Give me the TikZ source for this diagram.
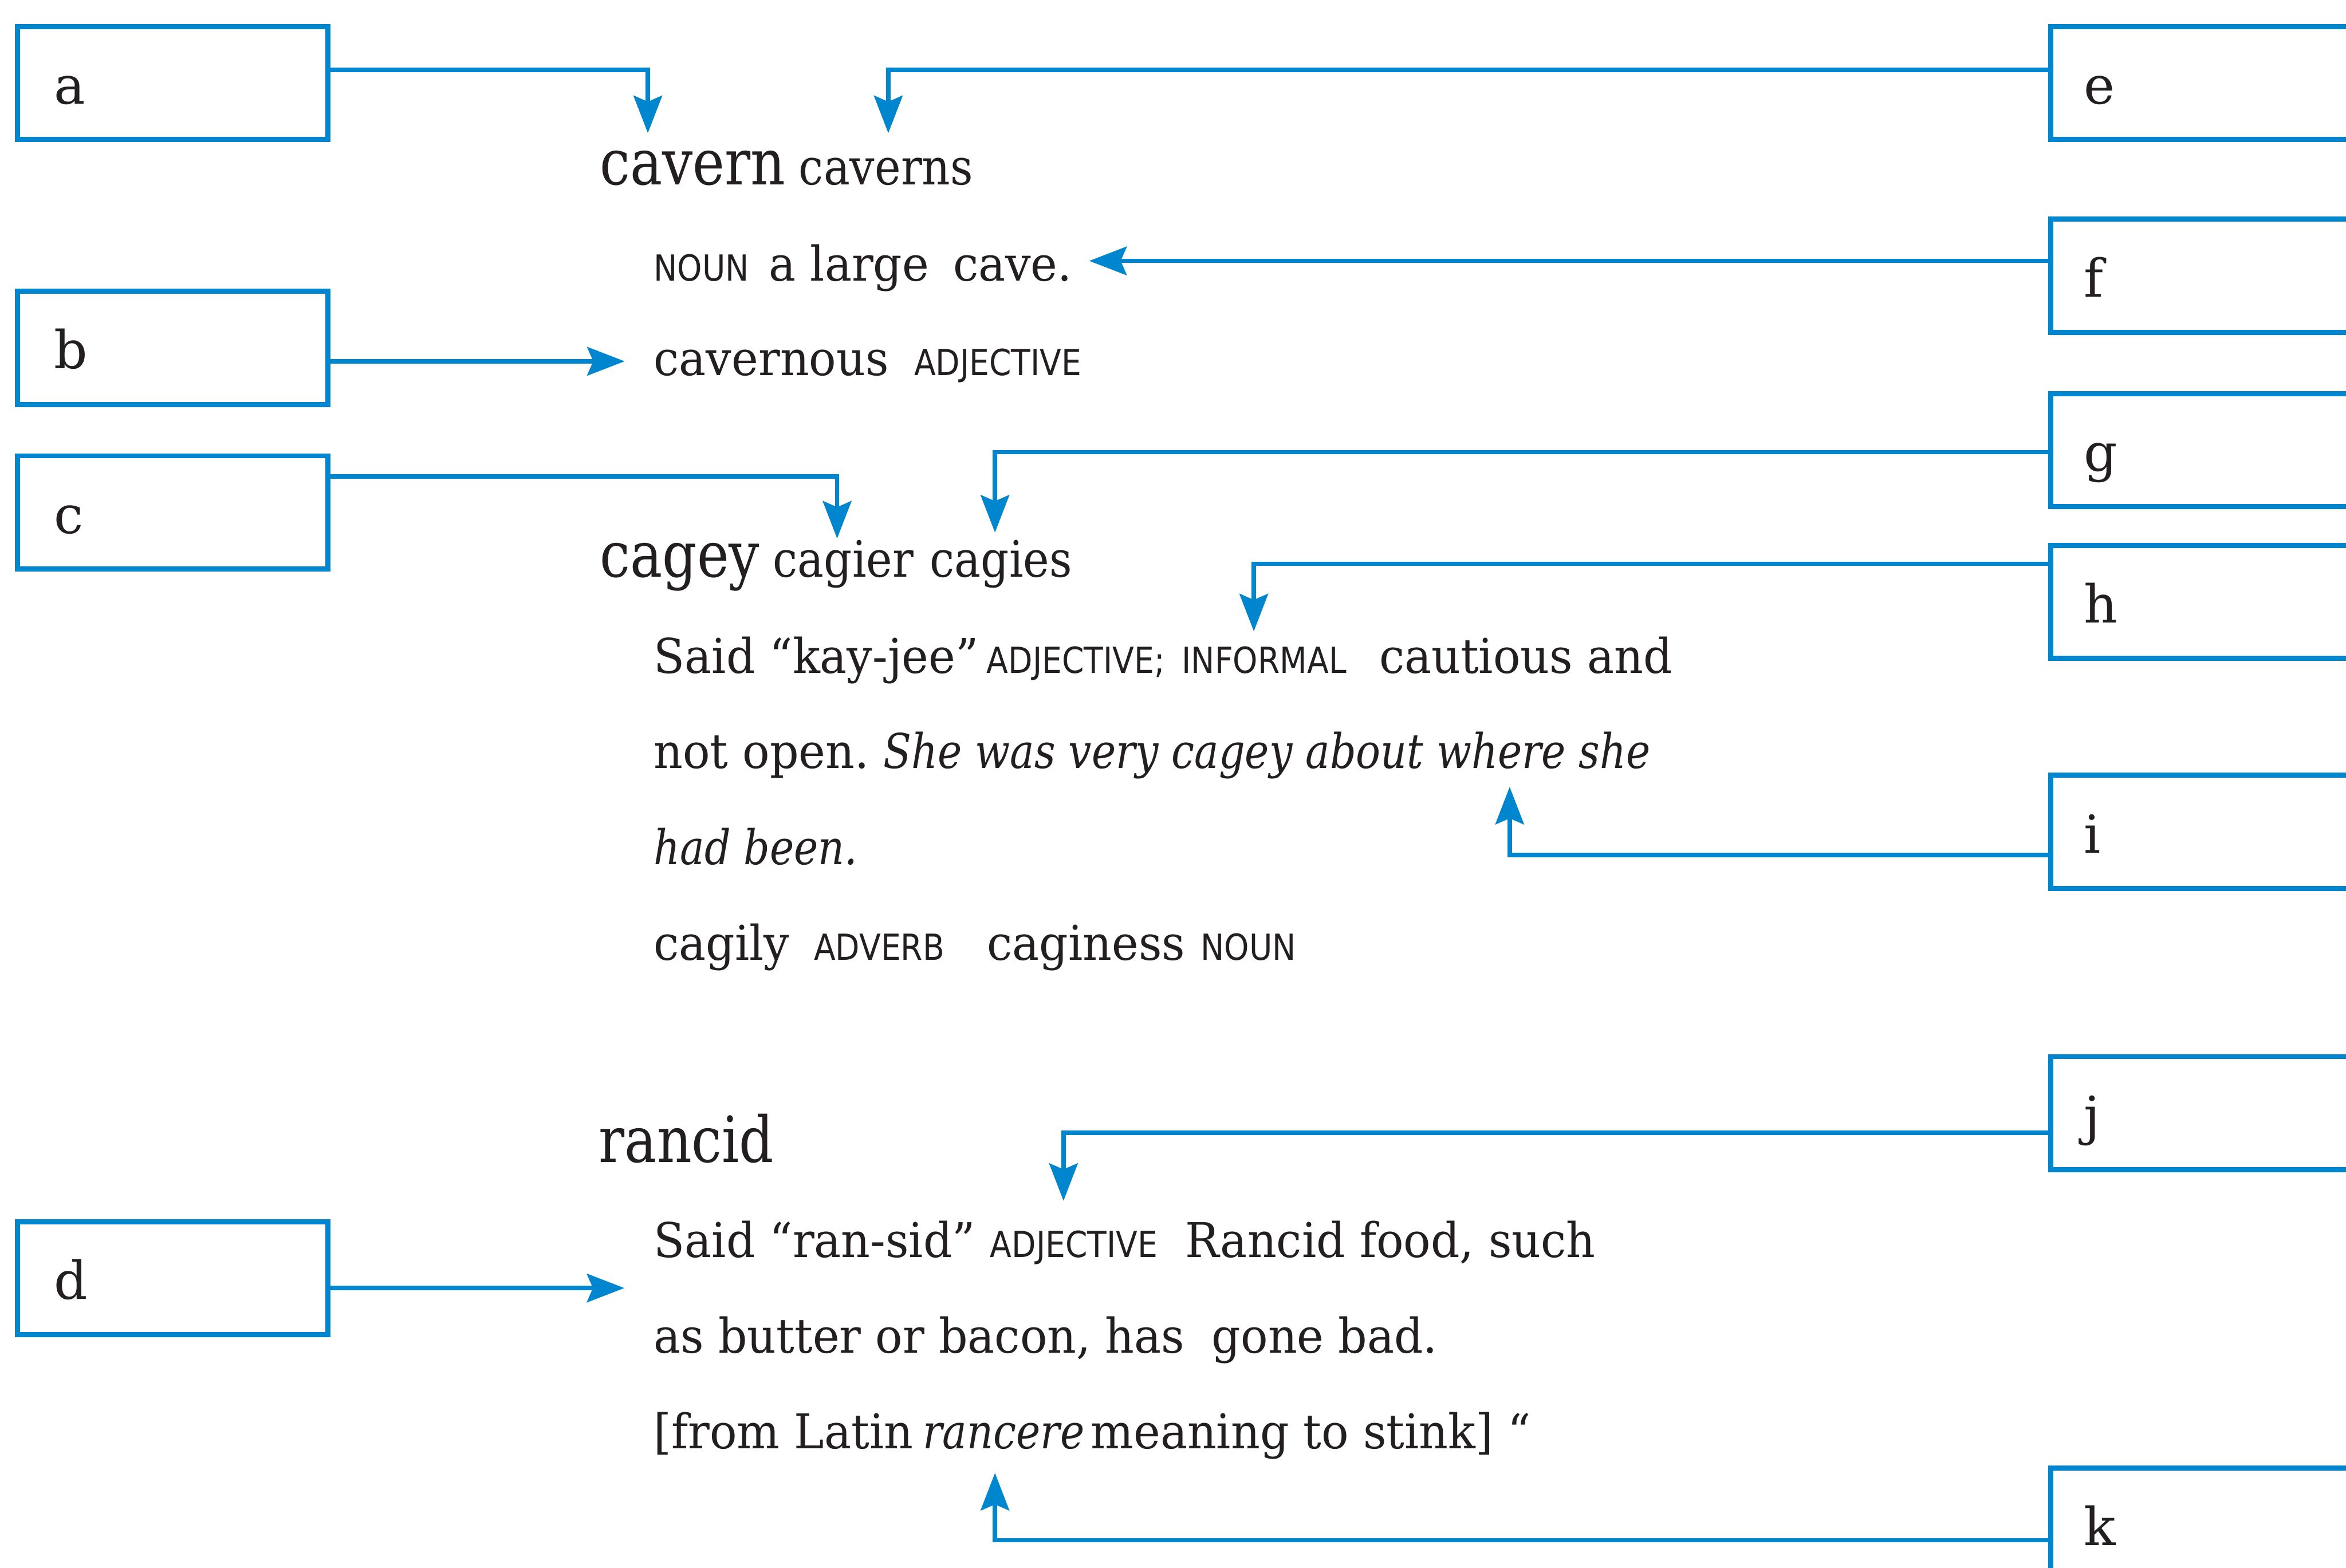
\documentclass[tikz,border=0pt]{standalone}
\usepackage{fontspec}
\setmainfont{DejaVu Serif}
\newfontfamily\bodyf{DejaVu Serif}[FakeStretch=0.945]
\newfontfamily\italf{DejaVu Serif}[FakeStretch=0.855]
\newfontfamily\headf{DejaVu Serif}[FakeStretch=0.85]
\newfontfamily\inflf{DejaVu Serif}[FakeStretch=0.88]
\newfontfamily\scf{DejaVu Sans}[FakeStretch=0.88]
\newfontfamily\lblf{DejaVu Serif}
\usetikzlibrary{arrows.meta}
\definecolor{oupblue}{RGB}{0,134,206}
\definecolor{ink}{RGB}{35,31,32}
\tikzset{
 box/.style={draw=oupblue, line width=3.4pt, rectangle, minimum width=207.6pt, minimum height=75.6pt, inner sep=0pt, outer sep=0pt},
 rbox/.style={box, minimum width=300pt},
 conn/.style={draw=oupblue, line width=2.9pt, -{Stealth[length=25pt,width=19pt,inset=4pt]}},
 txt/.style={anchor=base west, inner sep=0pt, outer sep=0pt, text=ink},
 boxlbl/.style={txt, font=\lblf\fontsize{35}{40}\selectfont},
 bodytxt/.style={txt, font=\bodyf\fontsize{32}{38}\selectfont},
 italtxt/.style={txt, font=\italf\itshape\fontsize{32}{38}\selectfont},
 hdword/.style={txt, font=\headf\fontsize{42.5}{48}\selectfont},
 infltxt/.style={txt, font=\inflf\fontsize{33.5}{38}\selectfont},
 sctxt/.style={txt, font=\scf\fontsize{24}{28}\selectfont},
}
\begin{document}
\begin{tikzpicture}[x=1pt,y=-1pt]
\useasboundingbox (0,0) rectangle (1568,1048);
\fill[white] (0,0) rectangle (1568,1048);
\clip (0,0) rectangle (1568,1048);

% left boxes
\node[box] (a) at (115.5,55.5) {};
\node[box] (b) at (115.5,232.5) {};
\node[box] (c) at (115.5,342.5) {};
\node[box] (d) at (115.5,854.5) {};
% right boxes
\node[rbox] (e) at (1520.7,55.5) {};
\node[rbox] (f) at (1520.7,184.3) {};
\node[rbox] (g) at (1520.7,300.9) {};
\node[rbox] (h) at (1520.7,402.3) {};
\node[rbox] (i) at (1520.7,556.1) {};
\node[rbox] (j) at (1520.7,744.1) {};
\node[rbox] (k) at (1520.7,1019.2) {};

% box labels
\node[boxlbl] (la) at ([xshift=24.3pt,yshift=-14pt]a.west) {a};
\node[boxlbl] (lb) at ([xshift=24.3pt,yshift=-14pt]b.west) {b};
\node[boxlbl] (lc) at ([xshift=24.3pt,yshift=-14pt]c.west) {c};
\node[boxlbl] (ld) at ([xshift=24.3pt,yshift=-14pt]d.west) {d};
\node[boxlbl] (le) at ([xshift=22.3pt,yshift=-14pt]e.west) {e};
\node[boxlbl] (lf) at ([xshift=22.3pt,yshift=-14pt]f.west) {f};
\node[boxlbl] (lg) at ([xshift=22.3pt,yshift=-14pt]g.west) {g};
\node[boxlbl] (lh) at ([xshift=22.3pt,yshift=-14pt]h.west) {h};
\node[boxlbl] (li) at ([xshift=22.3pt,yshift=-14pt]i.west) {i};
\node[boxlbl] (lj) at ([xshift=22.3pt,yshift=-14pt]j.west) {j};
\node[boxlbl] (lk) at ([xshift=22.3pt,yshift=-14pt]k.west) {k};

% entry: cavern
\node[hdword]  (w1)  at (401,123.6) {cavern};
\node[infltxt] (w1b) at (534,123.6) {caverns};
\node[sctxt]   (w2a) at (437,187.7) {NOUN};
\node[bodytxt] (w2b) at (514,187.7) {a large};
\node[bodytxt] (w2c) at (637,187.7) {cave.};
\node[bodytxt] (w3a) at (437,250.8) {cavernous};
\node[sctxt]   (w3b) at (611,250.8) {ADJECTIVE};

% entry: cagey
\node[hdword]  (w4a) at (401,385.6) {cagey};
\node[infltxt] (w4b) at (516.7,385.6) {cagier};
\node[infltxt] (w4c) at (621.6,385.6) {cagies};
\node[bodytxt] (w5a) at (437,450) {Said “kay-jee”};
\node[sctxt]   (w5b) at (659.5,450) {ADJECTIVE;};
\node[sctxt]   (w5c) at (790,450) {INFORMAL};
\node[bodytxt] (w5d) at (921.8,450) {cautious and};
\node[bodytxt] (w6a) at (437,513.7) {not open.};
\node[italtxt] (w6b) at (590.5,513.7) {She was very cagey about where she};
\node[italtxt] (w7a) at (437,577.7) {had been.};
\node[bodytxt] (w8a) at (437,641.7) {cagily};
\node[sctxt]   (w8b) at (544,641.7) {ADVERB};
\node[bodytxt] (w8c) at (659.7,641.7) {caginess};
\node[sctxt]   (w8d) at (802.5,641.7) {NOUN};

% entry: rancid
\node[hdword]  (w9a)  at (400.3,777) {rancid};
\node[bodytxt] (w10a) at (437,840.6) {Said “ran-sid”};
\node[sctxt]   (w10b) at (661.8,840.6) {ADJECTIVE};
\node[bodytxt] (w10c) at (792.3,840.6) {Rancid food, such};
\node[bodytxt] (w11a) at (437,904.3) {as butter or bacon, has};
\node[bodytxt] (w11b) at (810,904.3) {gone bad.};
\node[bodytxt] (w12a) at (437,968.5) {[from Latin};
\node[italtxt] (w12b) at (617,968.5) {rancere};
\node[bodytxt] (w12c) at (729,968.5) {meaning to stink] “};

% connector bends and tips
\coordinate (ka) at (433,46.6);   \coordinate (ta) at (433,89);
\coordinate (ke) at (593.7,46.6); \coordinate (te) at (593.7,89);
\coordinate (tf) at (728,174.4);
\coordinate (tb) at (417.5,241.5);
\coordinate (kc) at (559.5,318.4); \coordinate (tc) at (559.5,360);
\coordinate (kg) at (665,302.3);   \coordinate (tg) at (665,356);
\coordinate (kh) at (838,376.8);   \coordinate (th) at (838,422);
\coordinate (ki) at (1009,571.5);  \coordinate (ti) at (1009,526);
\coordinate (kj) at (710.8,757.3); \coordinate (tj) at (710.8,802.7);
\coordinate (td) at (417.3,861);
\coordinate (kk) at (665,1029.6);  \coordinate (tk) at (665,984.6);

\draw[conn] (a.east |- ka) -- (ka) -- (ta);
\draw[conn] (e.west |- ke) -- (ke) -- (te);
\draw[conn] (f.west |- tf) -- (tf);
\draw[conn] (b.east |- tb) -- (tb);
\draw[conn] (c.east |- kc) -- (kc) -- (tc);
\draw[conn] (g.west |- kg) -- (kg) -- (tg);
\draw[conn] (h.west |- kh) -- (kh) -- (th);
\draw[conn] (i.west |- ki) -- (ki) -- (ti);
\draw[conn] (j.west |- kj) -- (kj) -- (tj);
\draw[conn] (d.east |- td) -- (td);
\draw[conn] (k.west |- kk) -- (kk) -- (tk);
\end{tikzpicture}
\end{document}
